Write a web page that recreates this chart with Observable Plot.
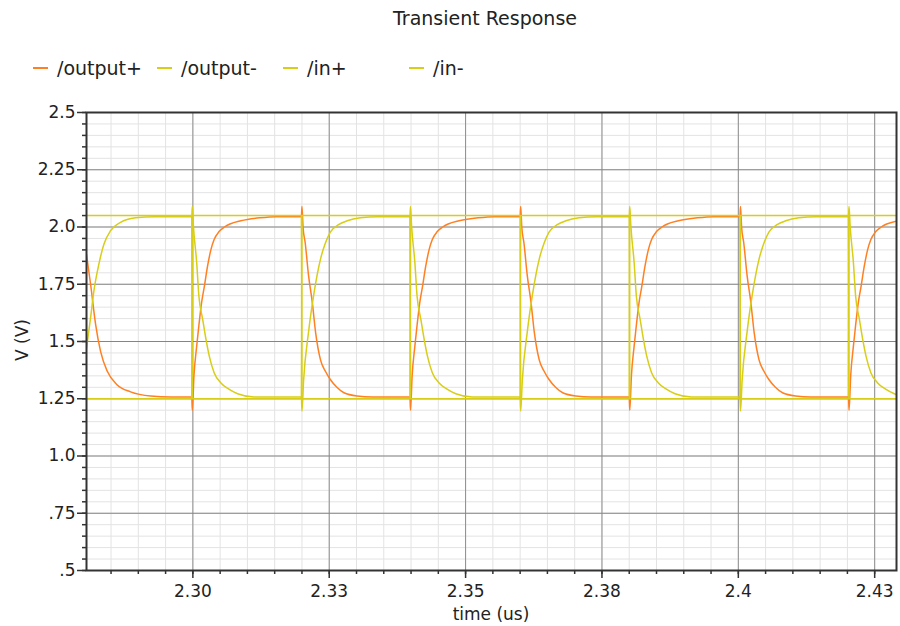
<!DOCTYPE html>
<html>
<head>
<meta charset="utf-8">
<script src="https://cdn.jsdelivr.net/npm/d3@7"></script>
<script src="https://cdn.jsdelivr.net/npm/@observablehq/plot@0.6"></script>
<style>
  body { margin: 0; background: #fff; }
  #chart { position: relative; width: 900px; height: 626px; font-family: "DejaVu Sans", sans-serif; color: #222; overflow: hidden; }
  #chart svg { position: absolute; left: 0; top: 0; }
  .title { position: absolute; left: 80px; width: 810px; top: 7px; text-align: center; font-size: 19px; }
  .legend-item { position: absolute; top: 57px; height: 22px; display: flex; align-items: center; font-size: 19px; white-space: nowrap; }
  .swatch { width: 15px; height: 0; border-top: 2px solid; margin-right: 9px; }
  .ylabel { position: absolute; left: 22px; top: 340px; transform: translate(-50%, -50%) rotate(-90deg); font-size: 17px; white-space: nowrap; }
  .xlabel { position: absolute; left: 491px; top: 614px; transform: translate(-50%, -50%); font-size: 17px; white-space: nowrap; }
</style>
</head>
<body>
<div id="chart"></div>
<script>
// Axis ranges and tick labels
const xDomain = [2.2805, 2.4290];
const yDomain = [0.5, 2.5];
const xTicks = [2.300, 2.325, 2.350, 2.375, 2.400, 2.425];
const xTickLabels = ["2.30", "2.33", "2.35", "2.38", "2.4", "2.43"];
const yTicks = [0.5, 0.75, 1.0, 1.25, 1.5, 1.75, 2.0, 2.25, 2.5];
const yTickLabels = [".5", ".75", "1.0", "1.25", "1.5", "1.75", "2.0", "2.25", "2.5"];

// Series names and colours
const seriesNames = ["/output+", "/output-", "/in+", "/in-"];
const seriesColors = ["#ff8022", "#d8ce18", "#d8ce18", "#d8ce18"];

// /output+ (time in us, voltage in V)
const outPlusTime = [
  2.2805, 2.28125, 2.28217, 2.28308, 2.28431, 2.28614, 2.28858, 2.29225, 2.2960,
  2.2998, 2.2999, 2.3002, 2.3007, 2.3011, 2.3016, 2.3021, 2.3027, 2.3033, 2.3039, 2.3048, 2.3058, 2.3068, 2.3088, 2.3123, 2.3153,
  2.3199, 2.3200, 2.3202, 2.3206, 2.3212, 2.3219, 2.3225, 2.3234, 2.3243, 2.3252, 2.3264, 2.3277, 2.3301, 2.3329,
  2.3398, 2.3399, 2.3402, 2.3407, 2.3411, 2.3416, 2.3421, 2.3427, 2.3433, 2.3439, 2.3448, 2.3458, 2.3468, 2.3488, 2.3523, 2.3553,
  2.3600, 2.3601, 2.3603, 2.3607, 2.3613, 2.3620, 2.3626, 2.3635, 2.3644, 2.3653, 2.3665, 2.3678, 2.3702, 2.3730,
  2.3800, 2.3801, 2.3804, 2.3809, 2.3813, 2.3818, 2.3823, 2.3829, 2.3835, 2.3841, 2.3850, 2.3860, 2.3870, 2.3890, 2.3925, 2.3955,
  2.4003, 2.4004, 2.4006, 2.4010, 2.4016, 2.4023, 2.4029, 2.4038, 2.4047, 2.4056, 2.4068, 2.4081, 2.4105, 2.4133,
  2.4202, 2.4203, 2.4206, 2.4211, 2.4215, 2.4220, 2.4225, 2.4231, 2.4237, 2.4243, 2.4252, 2.4262, 2.4272, 2.4290
];
const outPlusVolts = [
  1.88, 1.75, 1.575, 1.457, 1.37, 1.31, 1.28, 1.262, 1.258,
  1.258, 1.20, 1.35, 1.48, 1.57, 1.67, 1.74, 1.83, 1.90, 1.945, 1.98, 2.00, 2.013, 2.027, 2.040, 2.045,
  2.045, 2.09, 2.00, 1.93, 1.79, 1.67, 1.54, 1.42, 1.37, 1.334, 1.30, 1.276, 1.262, 1.258,
  1.258, 1.20, 1.35, 1.48, 1.57, 1.67, 1.74, 1.83, 1.90, 1.945, 1.98, 2.00, 2.013, 2.027, 2.040, 2.045,
  2.045, 2.09, 2.00, 1.93, 1.79, 1.67, 1.54, 1.42, 1.37, 1.334, 1.30, 1.276, 1.262, 1.258,
  1.258, 1.20, 1.35, 1.48, 1.57, 1.67, 1.74, 1.83, 1.90, 1.945, 1.98, 2.00, 2.013, 2.027, 2.040, 2.045,
  2.045, 2.09, 2.00, 1.93, 1.79, 1.67, 1.54, 1.42, 1.37, 1.334, 1.30, 1.276, 1.262, 1.258,
  1.258, 1.20, 1.35, 1.48, 1.57, 1.67, 1.74, 1.83, 1.90, 1.945, 1.98, 2.00, 2.013, 2.026
];

// /output- (time in us, voltage in V)
const outMinusTime = [
  2.2805, 2.28125, 2.28185, 2.28277, 2.28369, 2.28492, 2.28674, 2.28949, 2.2930,
  2.2998, 2.2999, 2.3001, 2.3007, 2.3011, 2.3018, 2.3024, 2.3030, 2.3039, 2.3051, 2.3066, 2.3082, 2.3112,
  2.3199, 2.3200, 2.3203, 2.3212, 2.3222, 2.3234, 2.3243, 2.3252, 2.3267, 2.3283, 2.3307, 2.3339,
  2.3398, 2.3399, 2.3401, 2.3407, 2.3411, 2.3418, 2.3424, 2.3430, 2.3439, 2.3451, 2.3466, 2.3482, 2.3512,
  2.3600, 2.3601, 2.3604, 2.3613, 2.3623, 2.3635, 2.3644, 2.3653, 2.3668, 2.3684, 2.3708, 2.3740,
  2.3800, 2.3801, 2.3803, 2.3809, 2.3813, 2.3820, 2.3826, 2.3832, 2.3841, 2.3853, 2.3868, 2.3884, 2.3914,
  2.4003, 2.4004, 2.4007, 2.4016, 2.4026, 2.4038, 2.4047, 2.4056, 2.4071, 2.4087, 2.4111, 2.4143,
  2.4202, 2.4203, 2.4205, 2.4211, 2.4215, 2.4222, 2.4228, 2.4234, 2.4243, 2.4255, 2.4270, 2.4286, 2.4290
];
const outMinusVolts = [
  1.47, 1.604, 1.72, 1.838, 1.925, 1.984, 2.02, 2.04, 2.045,
  2.045, 2.09, 2.005, 1.845, 1.70, 1.597, 1.51, 1.437, 1.364, 1.32, 1.292, 1.272, 1.258,
  1.258, 1.196, 1.33, 1.54, 1.71, 1.86, 1.93, 1.978, 2.01, 2.027, 2.04, 2.045,
  2.045, 2.09, 2.005, 1.845, 1.70, 1.597, 1.51, 1.437, 1.364, 1.32, 1.292, 1.272, 1.258,
  1.258, 1.196, 1.33, 1.54, 1.71, 1.86, 1.93, 1.978, 2.01, 2.027, 2.04, 2.045,
  2.045, 2.09, 2.005, 1.845, 1.70, 1.597, 1.51, 1.437, 1.364, 1.32, 1.292, 1.272, 1.258,
  1.258, 1.196, 1.33, 1.54, 1.71, 1.86, 1.93, 1.978, 2.01, 2.027, 2.04, 2.045,
  2.045, 2.09, 2.005, 1.845, 1.70, 1.597, 1.51, 1.437, 1.364, 1.32, 1.292, 1.272, 1.268
];

// /in+ and /in- square-wave drive (time in us, voltage in V)
const inTime = [
  2.2805, 2.2998, 2.2999, 2.3199, 2.3200, 2.3398, 2.3399, 2.3600,
  2.3601, 2.3800, 2.3801, 2.4003, 2.4004, 2.4202, 2.4203, 2.4290
];
const inPlusVolts = [
  1.25, 1.25, 2.05, 2.05, 1.25, 1.25, 2.05, 2.05,
  1.25, 1.25, 2.05, 2.05, 1.25, 1.25, 2.05, 2.05
];
const inMinusVolts = [
  2.05, 2.05, 1.25, 1.25, 2.05, 2.05, 1.25, 1.25,
  2.05, 2.05, 1.25, 1.25, 2.05, 2.05, 1.25, 1.25
];

// Minor grid positions: every 0.005 us and every 0.05 V
const minorX = d3.range(457, 486).map(k => +(k * 0.005).toFixed(3));
const minorY = d3.range(10, 51).map(k => +(k * 0.05).toFixed(2));

const toRows = (times, volts) => times.map((t, i) => ({t, v: volts[i]}));
const traces = [
  toRows(outPlusTime, outPlusVolts),
  toRows(outMinusTime, outMinusVolts),
  toRows(inTime, inPlusVolts),
  toRows(inTime, inMinusVolts)
];
// analog traces are smoothed, the square-wave drive stays piecewise linear
const traceCurves = ["monotone-x", "monotone-x", "linear", "linear"];

const xLabel = new Map(xTicks.map((d, i) => [d, xTickLabels[i]]));
const yLabel = new Map(yTicks.map((d, i) => [d, yTickLabels[i]]));

const chart = Plot.plot({
  width: 900,
  height: 626,
  marginTop: 112,
  marginBottom: 56,
  marginLeft: 86,
  marginRight: 4,
  style: {fontFamily: "DejaVu Sans, sans-serif", fontSize: "17px", color: "#222", background: "#fff"},
  x: {domain: xDomain},
  y: {domain: yDomain},
  marks: [
    Plot.gridX(minorX, {stroke: "#e3e3e3", strokeOpacity: 1, strokeWidth: 1}),
    Plot.gridY(minorY, {stroke: "#e3e3e3", strokeOpacity: 1, strokeWidth: 1}),
    Plot.gridX(xTicks, {stroke: "#8e8e8e", strokeOpacity: 1, strokeWidth: 1}),
    Plot.gridY(yTicks, {stroke: "#858585", strokeOpacity: 1, strokeWidth: 1}),
    ...traces.map((rows, i) => Plot.line(rows, {
      x: "t", y: "v", stroke: seriesColors[i], strokeWidth: 1.5, clip: true, curve: traceCurves[i]
    })),
    Plot.frame({stroke: "#333", strokeWidth: 2}),
    Plot.axisX(minorX, {tickSize: 4, tickFormat: () => "", label: null, stroke: "#333", strokeWidth: 1.5}),
    Plot.axisX(xTicks, {tickSize: 8, tickPadding: 6, tickFormat: d => xLabel.get(d), label: null, stroke: "#333", strokeWidth: 1.5, fontSize: 17}),
    Plot.axisY(minorY, {tickSize: 4, tickFormat: () => "", label: null, stroke: "#333", strokeWidth: 1.5}),
    Plot.axisY(yTicks, {tickSize: 9, tickPadding: 2, tickFormat: d => yLabel.get(d), label: null, stroke: "#333", strokeWidth: 1.5, fontSize: 17})
  ]
});

const root = document.getElementById("chart");
root.appendChild(chart);

// Title, legend and axis labels
const title = document.createElement("div");
title.className = "title";
title.textContent = "Transient Response";
root.appendChild(title);

const legendLeft = [33, 157, 283, 409];
seriesNames.forEach((name, i) => {
  const item = document.createElement("div");
  item.className = "legend-item";
  item.style.left = legendLeft[i] + "px";
  const sw = document.createElement("span");
  sw.className = "swatch";
  sw.style.borderTopColor = seriesColors[i];
  const label = document.createElement("span");
  label.textContent = name;
  item.appendChild(sw);
  item.appendChild(label);
  root.appendChild(item);
});

const ylab = document.createElement("div");
ylab.className = "ylabel";
ylab.textContent = "V (V)";
root.appendChild(ylab);

const xlab = document.createElement("div");
xlab.className = "xlabel";
xlab.textContent = "time (us)";
root.appendChild(xlab);
</script>
</body>
</html>
